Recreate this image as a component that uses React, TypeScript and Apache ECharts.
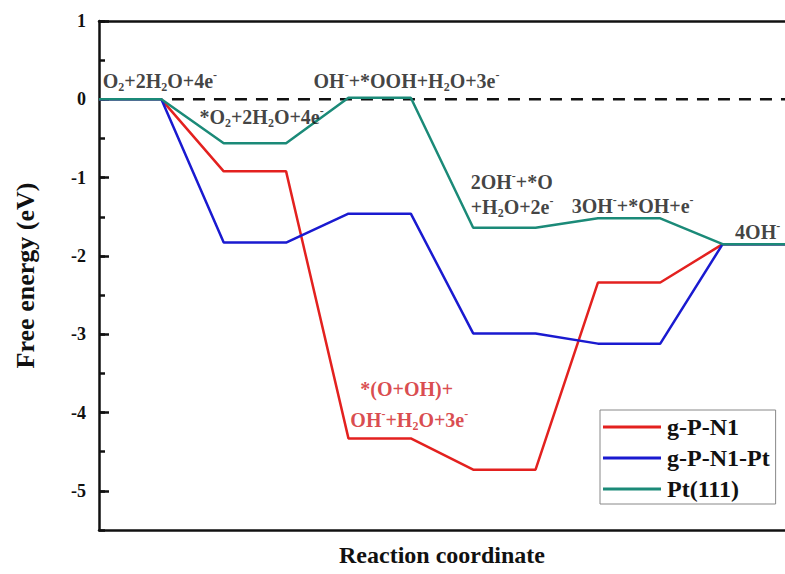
import React, { useEffect, useRef } from "react";
import * as echarts from "echarts";

// Free energy of each state along the reaction coordinate (eV)
const stateNames = ["O2+2H2O+4e-", "*O2+2H2O+4e-", "*OOH / *(O+OH)", "*O", "*OH", "4OH-"];
const gPN1 = [0, -0.92, -4.33, -4.73, -2.34, -1.85];
const gPN1Pt = [0, -1.83, -1.46, -2.99, -3.12, -1.85];
const pt111 = [0, -0.56, 0.02, -1.64, -1.52, -1.85];
const seriesNames = ["g-P-N1", "g-P-N1-Pt", "Pt(111)"];
const refLine = [[1.17, 0], [11, 0]];

// annotation texts: [x, y, rich text, colour key]
const annotations: [number, number, string, string][] = [
  [0.06, 0.23, "O{s|2}+2H{s|2}O+4e{p|-}", "k"],
  [1.61, -0.23, "*O{s|2}+2H{s|2}O+4e{p|-}", "k"],
  [3.44, 0.24, "OH{p|-}+*OOH+H{s|2}O+3e{p|-}", "k"],
  [5.96, -1.05, "2OH{p|-}+*O", "k"],
  [5.96, -1.38, "+H{s|2}O+2e{p|-}", "k"],
  [7.58, -1.36, "3OH{p|-}+*OH+e{p|-}", "k"],
  [10.2, -1.7, "4OH{p|-}", "k"],
  [4.19, -3.7, "*(O+OH)+", "r"],
  [4.03, -4.09, "OH{p|-}+H{s|2}O+3e{p|-}", "r"],
];

const FONT = "'Liberation Serif', 'Times New Roman', serif";
const COLORS = ["#e3211f", "#1a1ad0", "#1b8a78"];

function steps(vals: number[]): number[][] {
  const pts: number[][] = [];
  vals.forEach((v, i) => {
    pts.push([2 * i, v]);
    pts.push([2 * i + 1, v]);
  });
  return pts;
}

export default function App() {
  const ref = useRef<HTMLDivElement>(null);
  useEffect(() => {
    if (!ref.current) return;
    const chart = echarts.init(ref.current, undefined, { renderer: "svg" });
    const lineSeries = [gPN1, gPN1Pt, pt111].map((vals, i) => ({
      name: seriesNames[i],
      type: "line",
      data: steps(vals),
      symbol: "none",
      lineStyle: { color: COLORS[i], width: 2.5 },
      itemStyle: { color: COLORS[i] },
      z: 3 + i,
    }));
    const black = "#111";
    const red = "#d01c22";
    chart.setOption({
      animation: false,
      backgroundColor: "#ffffff",
      grid: { left: 99, top: 21, bottom: 44, right: -5 },
      legend: {
        data: seriesNames,
        orient: "vertical",
        left: 600,
        top: 410,
        icon: "rect",
        itemWidth: 58,
        itemHeight: 3,
        itemGap: 7,
        padding: [5, 6, 3, 3],
        borderColor: "#888",
        borderWidth: 1,
        textStyle: { fontFamily: FONT, fontWeight: "bold", fontSize: 24, color: black, padding: [0, 0, 0, 1] },
      },
      xAxis: [
        {
          type: "value",
          min: 0,
          max: 11,
          name: "Reaction coordinate",
          nameLocation: "middle",
          nameGap: 13,
          nameTextStyle: { fontFamily: FONT, fontWeight: "bold", fontSize: 24, color: black },
          axisLine: { show: true, onZero: false, lineStyle: { color: black, width: 2.5 } },
          axisTick: { show: false },
          axisLabel: { show: false },
          splitLine: { show: false },
        },
        {
          type: "value",
          position: "top",
          min: 0,
          max: 11,
          axisLine: { show: true, onZero: false, lineStyle: { color: black, width: 2.5 } },
          axisTick: { show: false },
          axisLabel: { show: false },
          splitLine: { show: false },
        },
      ],
      yAxis: [
        {
          type: "value",
          position: "left",
          min: -5.5,
          max: 1,
          splitNumber: 6,
          name: "Free energy (eV)",
          nameLocation: "middle",
          nameGap: 61,
          nameTextStyle: { fontFamily: FONT, fontWeight: "bold", fontSize: 26, color: black },
          axisLine: { show: true, onZero: false, lineStyle: { color: black, width: 2.5 } },
          axisTick: { show: true, inside: true, length: 10, lineStyle: { color: black, width: 2.5 } },
          axisLabel: {
            showMinLabel: false,
            margin: 13,
            fontFamily: FONT,
            fontWeight: "bold",
            fontSize: 18,
            color: black,
            formatter: (v: number) => (Number.isInteger(v) ? String(v) : ""),
          },
          splitLine: { show: false },
        },
        {
          type: "value",
          position: "left",
          min: -5.5,
          max: 1,
          interval: 0.5,
          axisLine: { show: false, onZero: false },
          axisTick: { show: true, inside: true, length: 6, lineStyle: { color: black, width: 2.5 } },
          axisLabel: { show: false },
          splitLine: { show: false },
        },
      ],
      series: [
        {
          name: "ref",
          type: "line",
          data: refLine,
          symbol: "none",
          silent: true,
          lineStyle: { color: black, width: 2.5, type: [12, 9] },
          z: 2,
        },
        ...lineSeries,
        {
          name: "labels",
          type: "scatter",
          symbolSize: 0,
          silent: true,
          z: 10,
          data: annotations.map(([x, y, t, c]) => {
            const col = c === "r" ? red : black;
            return {
              value: [x, y],
              label: {
                show: true,
                position: "right",
                distance: 0,
                formatter: t,
                fontFamily: FONT,
                fontWeight: "bold",
                fontSize: 20,
                lineHeight: 24,
                color: col,
                rich: {
                  s: { fontSize: 12, fontWeight: "bold", fontFamily: FONT, lineHeight: 11, verticalAlign: "bottom", color: col },
                  p: { fontSize: 12, fontWeight: "bold", fontFamily: FONT, lineHeight: 11, verticalAlign: "top", color: col },
                },
              },
            };
          }),
        },
      ],
    });
    return () => chart.dispose();
  }, []);
  return (
    <div
      ref={ref}
      style={{ position: "fixed", left: 0, top: 0, width: 785, height: 574, background: "#fff" }}
    />
  );
}
